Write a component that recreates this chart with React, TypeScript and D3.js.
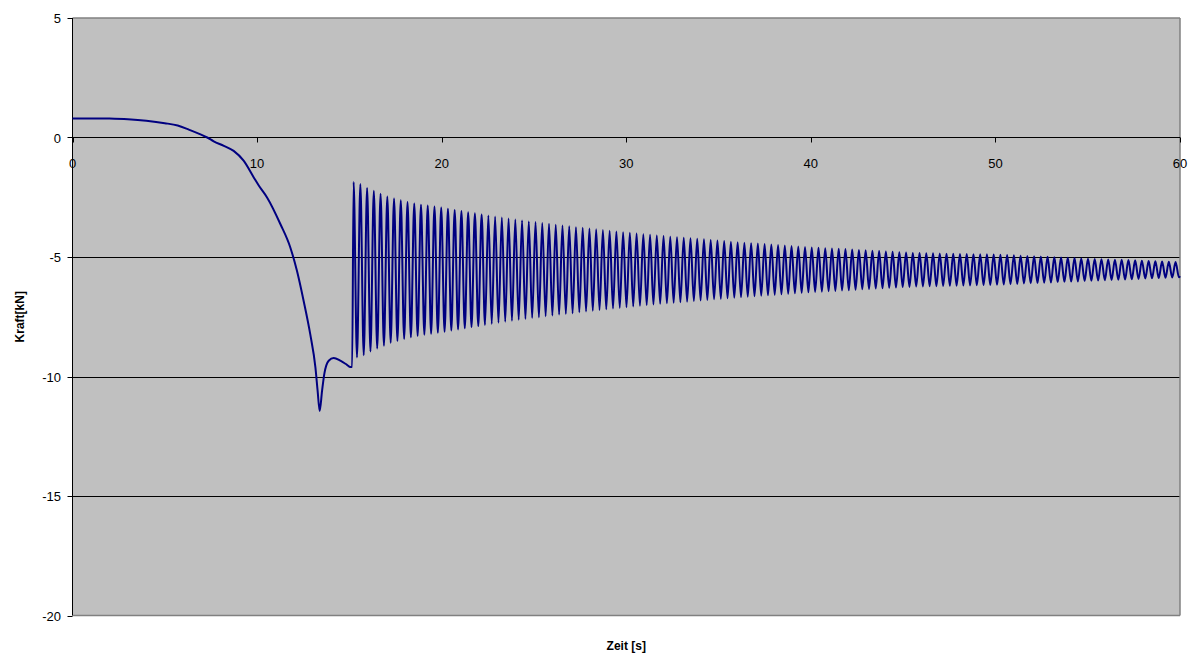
import React from "react";
import * as d3 from "d3";

// Kraft [kN] over Zeit [s]
const preTimes = [0, 1, 2, 3, 4, 5, 5.7, 6.3, 6.9, 7.3, 7.65, 8.2, 8.73, 9.27, 9.82, 10.1, 10.54, 11.26, 11.8, 12.16, 12.52, 12.88, 13.16, 13.28, 13.39, 13.52, 13.64, 13.88, 14.15, 14.51, 14.87, 15.05, 15.15];
const preValues = [0.8, 0.8, 0.79, 0.76, 0.7, 0.6, 0.5, 0.33, 0.14, 0, -0.16, -0.35, -0.56, -0.97, -1.67, -2.02, -2.51, -3.62, -4.6, -5.58, -6.83, -8.23, -9.62, -10.6, -11.44, -10.6, -9.9, -9.34, -9.23, -9.34, -9.51, -9.6, -9.6];

// oscillation after release: first crest time and period
const oscStart = 15.23;
const oscPeriod = 0.365;
const crestValues = [
  -1.86, -1.95, -2.11, -2.23, -2.35, -2.47, -2.55, -2.63, -2.70, -2.76,
  -2.81, -2.85, -2.89, -2.93, -2.98, -3.03, -3.08, -3.13, -3.17, -3.22,
  -3.26, -3.31, -3.35, -3.39, -3.43, -3.47, -3.51, -3.54, -3.58, -3.61,
  -3.65, -3.68, -3.71, -3.75, -3.78, -3.81, -3.84, -3.87, -3.90, -3.93,
  -3.96, -3.99, -4.02, -4.05, -4.07, -4.10, -4.12, -4.15, -4.17, -4.19,
  -4.22, -4.24, -4.26, -4.29, -4.31, -4.33, -4.36, -4.38, -4.40, -4.42,
  -4.44, -4.46, -4.48, -4.50, -4.52, -4.54, -4.56, -4.58, -4.60, -4.61,
  -4.63, -4.64, -4.66, -4.67, -4.69, -4.71, -4.72, -4.74, -4.75, -4.77,
  -4.78, -4.80, -4.81, -4.83, -4.83, -4.84, -4.84, -4.85, -4.86, -4.86,
  -4.87, -4.87, -4.88, -4.89, -4.89, -4.90, -4.91, -4.92, -4.93, -4.95,
  -4.96, -4.97, -4.98, -4.99, -5.01, -5.02, -5.03, -5.04, -5.06, -5.07,
  -5.08, -5.09, -5.10, -5.11, -5.12, -5.13, -5.14, -5.16, -5.17, -5.18,
  -5.19, -5.20, -5.21,
];
const troughValues = [
  -9.20, -9.11, -8.95, -8.83, -8.71, -8.59, -8.51, -8.43, -8.36, -8.30,
  -8.25, -8.21, -8.17, -8.13, -8.08, -8.03, -7.98, -7.93, -7.89, -7.84,
  -7.80, -7.75, -7.71, -7.67, -7.63, -7.59, -7.55, -7.52, -7.48, -7.45,
  -7.41, -7.38, -7.35, -7.31, -7.28, -7.25, -7.22, -7.19, -7.16, -7.13,
  -7.10, -7.07, -7.04, -7.01, -6.99, -6.96, -6.94, -6.91, -6.89, -6.87,
  -6.84, -6.82, -6.80, -6.77, -6.75, -6.73, -6.70, -6.68, -6.66, -6.64,
  -6.62, -6.60, -6.58, -6.56, -6.54, -6.52, -6.50, -6.48, -6.46, -6.45,
  -6.43, -6.42, -6.40, -6.39, -6.37, -6.35, -6.34, -6.32, -6.31, -6.29,
  -6.28, -6.26, -6.25, -6.23, -6.23, -6.22, -6.22, -6.21, -6.20, -6.20,
  -6.19, -6.19, -6.18, -6.17, -6.17, -6.16, -6.15, -6.14, -6.13, -6.11,
  -6.10, -6.09, -6.08, -6.07, -6.05, -6.04, -6.03, -6.02, -6.00, -5.99,
  -5.98, -5.97, -5.96, -5.95, -5.94, -5.93, -5.92, -5.90, -5.89, -5.88,
  -5.87, -5.86, -5.85,
];
const endTime = 60;
const endValue = -5.8;

const xTicks = [0, 10, 20, 30, 40, 50, 60];
const yTicks = [5, 0, -5, -10, -15, -20];
const gridValues = [-5, -10, -15];

const W = 1199;
const H = 655;
const left = 72.5;
const right = 1180;
const top = 18;
const bottom = 615.5;

export default function App() {
  const x = d3.scaleLinear().domain([0, 60]).range([left, right]);
  const y = d3.scaleLinear().domain([-20, 5]).range([bottom, top]);

  const pts: [number, number][] = [];
  preTimes.forEach((t, i) => pts.push([t, preValues[i]]));
  crestValues.forEach((c, i) => {
    const t = oscStart + i * oscPeriod;
    pts.push([t, c]);
    pts.push([t + oscPeriod / 2, troughValues[i]]);
  });
  pts.push([endTime, endValue]);

  const line = d3
    .line<[number, number]>()
    .x((d) => x(d[0]))
    .y((d) => y(d[1]))
    .curve(d3.curveMonotoneX);

  const font = "'Liberation Sans', Arial, sans-serif";
  const y0 = Math.round(y(0)) + 0.5;

  return (
    <svg
      width={W}
      height={H}
      style={{ position: "absolute", left: 0, top: 0, background: "#fff" }}
      fontFamily={font}
    >
      <rect x={left} y={top} width={right - left} height={bottom - top} fill="#C0C0C0" />
      {gridValues.map((v) => (
        <line key={v} x1={left} x2={right} y1={Math.round(y(v)) + 0.5} y2={Math.round(y(v)) + 0.5} stroke="#000" strokeWidth={1} />
      ))}
      {/* plot border */}
      <line x1={left} x2={right} y1={top} y2={top} stroke="#808080" strokeWidth={1.5} />
      <line x1={right} x2={right} y1={top} y2={bottom} stroke="#808080" strokeWidth={1.5} />
      <line x1={left} x2={right} y1={bottom} y2={bottom} stroke="#808080" strokeWidth={1.5} />
      {/* x axis at zero */}
      <line x1={left} x2={right} y1={y0} y2={y0} stroke="#000" strokeWidth={1} />
      {xTicks.map((t) => (
        <g key={t}>
          <line x1={Math.round(x(t)) + 0.5} x2={Math.round(x(t)) + 0.5} y1={y0} y2={y0 + 5} stroke="#000" />
          <text x={x(t)} y={y0 + 30} fontSize={13} textAnchor="middle" fill="#000">
            {t}
          </text>
        </g>
      ))}
      {/* y axis */}
      <line x1={left} x2={left} y1={top} y2={bottom} stroke="#000" strokeWidth={1} />
      {yTicks.map((v) => (
        <g key={v}>
          <line x1={left - 5} x2={left} y1={Math.round(y(v)) + 0.5} y2={Math.round(y(v)) + 0.5} stroke="#000" />
          <text x={61} y={y(v) + 5} fontSize={13} textAnchor="end" fill="#000">
            {v}
          </text>
        </g>
      ))}
      <path d={line(pts) ?? ""} fill="none" stroke="#000080" strokeWidth={2} strokeLinejoin="round" />
      <text x={(left + right) / 2} y={650} fontSize={12} fontWeight="bold" textAnchor="middle" fill="#000">
        Zeit [s]
      </text>
      <text
        transform={`translate(24, ${(top + bottom) / 2}) rotate(-90)`}
        fontSize={12}
        fontWeight="bold"
        textAnchor="middle"
        fill="#000"
      >
        Kraft[kN]
      </text>
    </svg>
  );
}
